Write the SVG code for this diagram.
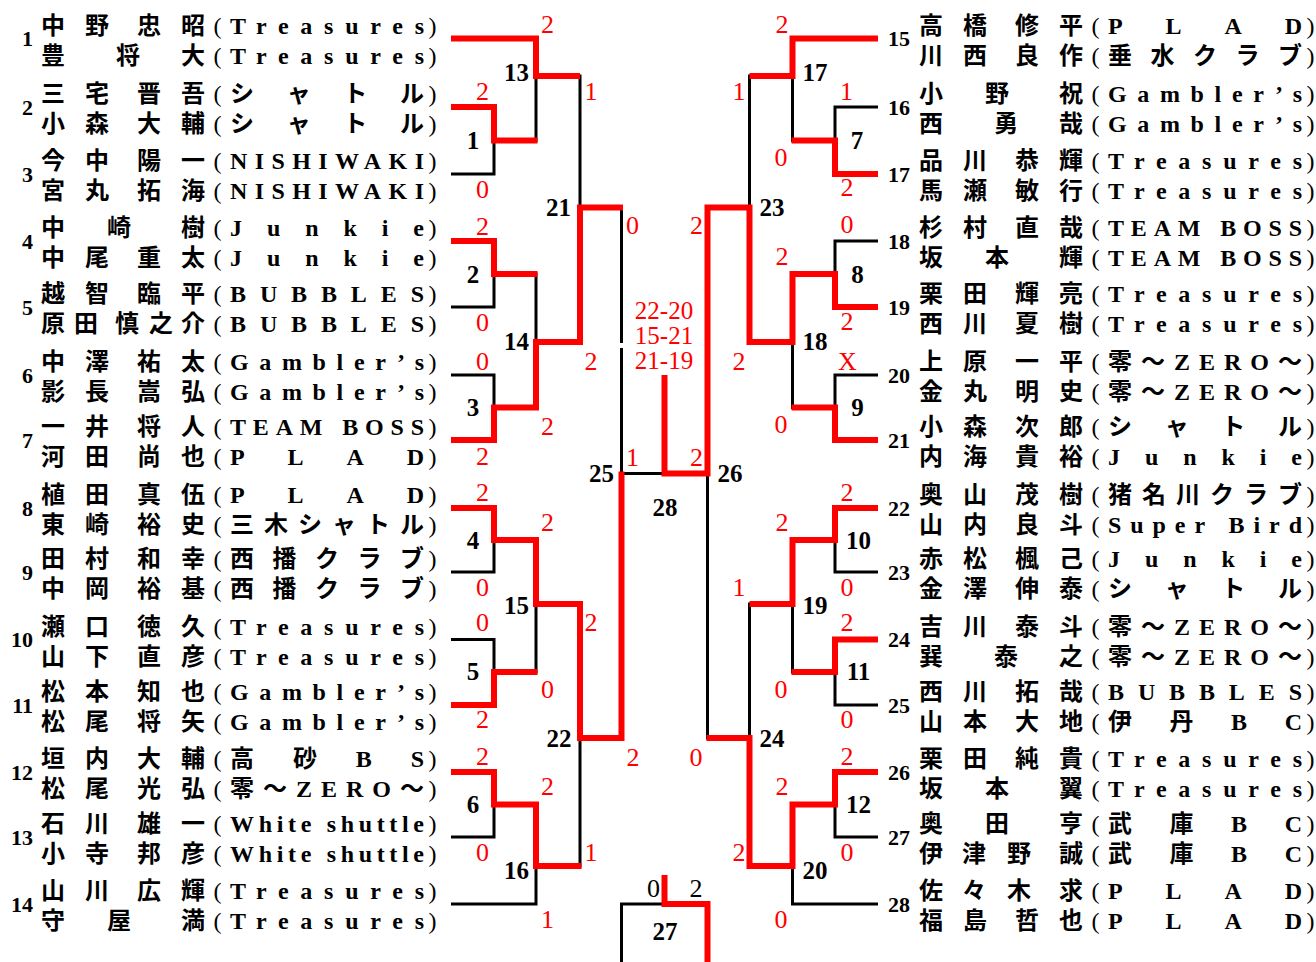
<svg xmlns="http://www.w3.org/2000/svg" width="1316" height="962" viewBox="0 0 1316 962">
<style>
.nm{font-family:"Liberation Serif","Noto Sans CJK JP",serif;font-size:24px;font-weight:700;fill:#000}
.pr{font-family:"Liberation Serif",serif;font-size:24px;text-anchor:middle;fill:#000}
.no{font-family:"Liberation Serif",serif;font-size:22px;font-weight:700;fill:#000}
.nl{text-anchor:end}
.mn{font-family:"Liberation Serif",serif;font-size:25px;font-weight:700;text-anchor:middle;fill:#000}
.sc{font-family:"Liberation Serif",serif;font-size:26px;text-anchor:middle;fill:#f00}
.bs{font-family:"Liberation Serif",serif;font-size:26px;text-anchor:middle;fill:#000}
.gs{font-family:"Liberation Serif",serif;font-size:25px;text-anchor:middle;fill:#f00}
.bk{fill:none;stroke:#000;stroke-width:3;stroke-linecap:square}
.rd{fill:none;stroke:#f00;stroke-width:6;stroke-linejoin:miter;stroke-linecap:butt}
</style>
<rect width="1316" height="962" fill="#fff"/>
<g id="connectors">
<path class="bk" d="M452.5 38.5H536M452.5 107H494M452.5 174H494M452.5 241H494M452.5 307H494M452.5 375H494M452.5 440H494M452.5 508H494M452.5 572H494M452.5 639.5H494M452.5 705H494M452.5 772H494M452.5 837H494M452.5 904H536
M494 107V174M494 241V307M494 375V440M494 508V572M494 639.5V705M494 772V837
M494 140.5H536M494 274H536M494 407.5H536M494 540H536M494 672H536M494 804.5H536
M536 38.5V140.5M536 274V407.5M536 540V672M536 804.5V904
M536 76H580M536 342H580M536 604H580M536 866H580
M580 76V342M580 604V866M580 207.5H621.5M580 738H621.5
M621.5 207.5V341.5M621.5 349.5V738M621.5 473.5H664.5
M621.5 904H664.5M621.5 904V962"/>
<path class="bk" d="M876.5 38.5H792.5M876.5 107H835M876.5 174H835M876.5 241H835M876.5 307H835M876.5 375H835M876.5 440H835M876.5 508H835M876.5 572H835M876.5 639.5H835M876.5 705H835M876.5 772H835M876.5 837H835M876.5 904H792.5
M835 107V174M835 241V307M835 375V440M835 508V572M835 639.5V705M835 772V837
M835 140.5H792.5M835 274H792.5M835 407.5H792.5M835 540H792.5M835 672H792.5M835 804.5H792.5
M792.5 38.5V140.5M792.5 274V407.5M792.5 540V672M792.5 804.5V904
M792.5 76H749.5M792.5 342H749.5M792.5 604H749.5M792.5 866H749.5
M749.5 76V342M749.5 604V866M749.5 207.5H707.5M749.5 738H707.5
M707.5 207.5V738M707.5 473.5H664.5"/>
<path class="rd" d="M451 38.5H536V76H580"/>
<path class="rd" d="M451 107H494V140.5H537.5"/>
<path class="rd" d="M451 241H494V274H537.5"/>
<path class="rd" d="M451 440H494V407.5H536V342H580V207.5H623"/>
<path class="rd" d="M451 508H494V540H536V604H580V738H621.5V471.5"/>
<path class="rd" d="M451 705H494V672H537.5"/>
<path class="rd" d="M451 772H494V804.5H536V866H581.5"/>
<path class="rd" d="M878 38.5H792.5V76H749.5"/>
<path class="rd" d="M878 174H835V140.5H791.5"/>
<path class="rd" d="M878 307H835V274H792.5V342H749.5V207.5H707.5V473.5H664.5V375"/>
<path class="rd" d="M878 440H835V407.5H791.5"/>
<path class="rd" d="M878 508H835V540H792.5V604H749.5"/>
<path class="rd" d="M878 639.5H835V672H791.5"/>
<path class="rd" d="M878 772H835V804.5H792.5V866H749.5V738H706.5"/>
<path class="rd" d="M664.5 875V904H707.5V962"/>
</g>
<g id="match-labels">
<text class="mn" x="473" y="149">1</text><text class="mn" x="473" y="282.5">2</text><text class="mn" x="473" y="416">3</text><text class="mn" x="473" y="548.5">4</text><text class="mn" x="473" y="680">5</text><text class="mn" x="473" y="813">6</text>
<text class="mn" x="516.5" y="80.5">13</text><text class="mn" x="516.5" y="349.5">14</text><text class="mn" x="516.5" y="613.5">15</text><text class="mn" x="516.5" y="879">16</text>
<text class="mn" x="558.5" y="216">21</text><text class="mn" x="559" y="747">22</text><text class="mn" x="601.5" y="481.5">25</text>
<text class="mn" x="857" y="149">7</text><text class="mn" x="857.5" y="282.5">8</text><text class="mn" x="857.5" y="416">9</text><text class="mn" x="858.5" y="548.5">10</text><text class="mn" x="858.5" y="680">11</text><text class="mn" x="858.5" y="813">12</text>
<text class="mn" x="815" y="80.5">17</text><text class="mn" x="815" y="350">18</text><text class="mn" x="815" y="613.5">19</text><text class="mn" x="815" y="879">20</text>
<text class="mn" x="772" y="216">23</text><text class="mn" x="772" y="747">24</text><text class="mn" x="730" y="481.5">26</text>
<text class="mn" x="665" y="515.5">28</text><text class="mn" x="665" y="940">27</text>
</g>
<g id="scores">
<text class="sc" x="547.5" y="33">2</text><text class="sc" x="591" y="100">1</text><text class="sc" x="482.5" y="100">2</text><text class="sc" x="482.5" y="198">0</text>
<text class="sc" x="632.5" y="234">0</text><text class="sc" x="482.5" y="235">2</text><text class="sc" x="482.5" y="331">0</text><text class="sc" x="482.5" y="370">0</text>
<text class="sc" x="591" y="370">2</text><text class="sc" x="547.5" y="435">2</text><text class="sc" x="482.5" y="465">2</text><text class="sc" x="632.5" y="466">1</text>
<text class="sc" x="482.5" y="501">2</text><text class="sc" x="547.5" y="531">2</text><text class="sc" x="482.5" y="596">0</text><text class="sc" x="482.5" y="631">0</text>
<text class="sc" x="591" y="631">2</text><text class="sc" x="547.5" y="698">0</text><text class="sc" x="482.5" y="728">2</text><text class="sc" x="482.5" y="765">2</text>
<text class="sc" x="633" y="766">2</text><text class="sc" x="547.5" y="795">2</text><text class="sc" x="482.5" y="861">0</text><text class="sc" x="591" y="861">1</text>
<text class="sc" x="547.5" y="928">1</text>
<text class="sc" x="782" y="33">2</text><text class="sc" x="739" y="100">1</text><text class="sc" x="846.5" y="100">1</text><text class="sc" x="781" y="166">0</text>
<text class="sc" x="847" y="196">2</text><text class="sc" x="696.5" y="234">2</text><text class="sc" x="847" y="233">0</text><text class="sc" x="782" y="265">2</text>
<text class="sc" x="847" y="330">2</text><text class="sc" x="739" y="370">2</text><text class="sc" x="847.5" y="370">X</text><text class="sc" x="781" y="433">0</text>
<text class="sc" x="696.5" y="466">2</text><text class="sc" x="847" y="501">2</text><text class="sc" x="782" y="531">2</text><text class="sc" x="739" y="596">1</text>
<text class="sc" x="847" y="596">0</text><text class="sc" x="847" y="631">2</text><text class="sc" x="781" y="698">0</text><text class="sc" x="847" y="728">0</text>
<text class="sc" x="696" y="766">0</text><text class="sc" x="847" y="765">2</text><text class="sc" x="782" y="795">2</text><text class="sc" x="739" y="861">2</text>
<text class="sc" x="847" y="861">0</text><text class="sc" x="781" y="928">0</text>
<text class="gs" x="664" y="318.5">22-20</text><text class="gs" x="664" y="343.5">15-21</text><text class="gs" x="664" y="368.5">21-19</text>
<text class="bs" x="653.5" y="897">0</text><text class="bs" x="696" y="897">2</text>
</g>
<g id="entry-1"><text class="no nl" x="33" y="46">1</text>
<text class="nm" x="41 85 137 181" y="33.5">中野忠昭</text><text class="pr" x="217.5" y="33.5">(</text><text class="pr" x="432.5" y="33.5">)</text><text class="nm" x="230" y="33.5" textLength="194" lengthAdjust="spacing">Treasures</text>
<text class="nm" x="41 116 181" y="63.5">豊将大</text><text class="pr" x="217.5" y="63.5">(</text><text class="pr" x="432.5" y="63.5">)</text><text class="nm" x="230" y="63.5" textLength="194" lengthAdjust="spacing">Treasures</text></g>
<g id="entry-2"><text class="no nl" x="33" y="114.5">2</text>
<text class="nm" x="41 85 137 181" y="102">三宅晋吾</text><text class="pr" x="217.5" y="102">(</text><text class="pr" x="432.5" y="102">)</text><text class="nm" x="230" y="102" textLength="194" lengthAdjust="spacing">シャトル</text>
<text class="nm" x="41 85 137 181" y="132">小森大輔</text><text class="pr" x="217.5" y="132">(</text><text class="pr" x="432.5" y="132">)</text><text class="nm" x="230" y="132" textLength="194" lengthAdjust="spacing">シャトル</text></g>
<g id="entry-3"><text class="no nl" x="33" y="181.5">3</text>
<text class="nm" x="41 85 137 181" y="169">今中陽一</text><text class="pr" x="217.5" y="169">(</text><text class="pr" x="432.5" y="169">)</text><text class="nm" x="230" y="169" textLength="194" lengthAdjust="spacing">NISHIWAKI</text>
<text class="nm" x="41 85 137 181" y="199">宮丸拓海</text><text class="pr" x="217.5" y="199">(</text><text class="pr" x="432.5" y="199">)</text><text class="nm" x="230" y="199" textLength="194" lengthAdjust="spacing">NISHIWAKI</text></g>
<g id="entry-4"><text class="no nl" x="33" y="248.5">4</text>
<text class="nm" x="41 107 181" y="236">中崎樹</text><text class="pr" x="217.5" y="236">(</text><text class="pr" x="432.5" y="236">)</text><text class="nm" x="230" y="236" textLength="194" lengthAdjust="spacing">Junkie</text>
<text class="nm" x="41 85 137 181" y="266">中尾重太</text><text class="pr" x="217.5" y="266">(</text><text class="pr" x="432.5" y="266">)</text><text class="nm" x="230" y="266" textLength="194" lengthAdjust="spacing">Junkie</text></g>
<g id="entry-5"><text class="no nl" x="33" y="314.5">5</text>
<text class="nm" x="41 85 137 181" y="302">越智臨平</text><text class="pr" x="217.5" y="302">(</text><text class="pr" x="432.5" y="302">)</text><text class="nm" x="230" y="302" textLength="194" lengthAdjust="spacing">BUBBLES</text>
<text class="nm" x="41 74 115 149 181" y="332">原田慎之介</text><text class="pr" x="217.5" y="332">(</text><text class="pr" x="432.5" y="332">)</text><text class="nm" x="230" y="332" textLength="194" lengthAdjust="spacing">BUBBLES</text></g>
<g id="entry-6"><text class="no nl" x="33" y="382.5">6</text>
<text class="nm" x="41 85 137 181" y="370">中澤祐太</text><text class="pr" x="217.5" y="370">(</text><text class="pr" x="432.5" y="370">)</text><text class="nm" x="230" y="370" textLength="194" lengthAdjust="spacing">Gambler’s</text>
<text class="nm" x="41 85 137 181" y="400">影長嵩弘</text><text class="pr" x="217.5" y="400">(</text><text class="pr" x="432.5" y="400">)</text><text class="nm" x="230" y="400" textLength="194" lengthAdjust="spacing">Gambler’s</text></g>
<g id="entry-7"><text class="no nl" x="33" y="447.5">7</text>
<text class="nm" x="41 85 137 181" y="435">一井将人</text><text class="pr" x="217.5" y="435">(</text><text class="pr" x="432.5" y="435">)</text><text class="nm" x="230" y="435" textLength="194" lengthAdjust="spacing">TEAM BOSS</text>
<text class="nm" x="41 85 137 181" y="465">河田尚也</text><text class="pr" x="217.5" y="465">(</text><text class="pr" x="432.5" y="465">)</text><text class="nm" x="230" y="465" textLength="194" lengthAdjust="spacing">PLAD</text></g>
<g id="entry-8"><text class="no nl" x="33" y="515.5">8</text>
<text class="nm" x="41 85 137 181" y="503">植田真伍</text><text class="pr" x="217.5" y="503">(</text><text class="pr" x="432.5" y="503">)</text><text class="nm" x="230" y="503" textLength="194" lengthAdjust="spacing">PLAD</text>
<text class="nm" x="41 85 137 181" y="533">東崎裕史</text><text class="pr" x="217.5" y="533">(</text><text class="pr" x="432.5" y="533">)</text><text class="nm" x="230" y="533" textLength="194" lengthAdjust="spacing">三木シャトル</text></g>
<g id="entry-9"><text class="no nl" x="33" y="579.5">9</text>
<text class="nm" x="41 85 137 181" y="567">田村和幸</text><text class="pr" x="217.5" y="567">(</text><text class="pr" x="432.5" y="567">)</text><text class="nm" x="230" y="567" textLength="194" lengthAdjust="spacing">西播クラブ</text>
<text class="nm" x="41 85 137 181" y="597">中岡裕基</text><text class="pr" x="217.5" y="597">(</text><text class="pr" x="432.5" y="597">)</text><text class="nm" x="230" y="597" textLength="194" lengthAdjust="spacing">西播クラブ</text></g>
<g id="entry-10"><text class="no nl" x="33" y="647">10</text>
<text class="nm" x="41 85 137 181" y="634.5">瀬口徳久</text><text class="pr" x="217.5" y="634.5">(</text><text class="pr" x="432.5" y="634.5">)</text><text class="nm" x="230" y="634.5" textLength="194" lengthAdjust="spacing">Treasures</text>
<text class="nm" x="41 85 137 181" y="664.5">山下直彦</text><text class="pr" x="217.5" y="664.5">(</text><text class="pr" x="432.5" y="664.5">)</text><text class="nm" x="230" y="664.5" textLength="194" lengthAdjust="spacing">Treasures</text></g>
<g id="entry-11"><text class="no nl" x="33" y="712.5">11</text>
<text class="nm" x="41 85 137 181" y="700">松本知也</text><text class="pr" x="217.5" y="700">(</text><text class="pr" x="432.5" y="700">)</text><text class="nm" x="230" y="700" textLength="194" lengthAdjust="spacing">Gambler’s</text>
<text class="nm" x="41 85 137 181" y="730">松尾将矢</text><text class="pr" x="217.5" y="730">(</text><text class="pr" x="432.5" y="730">)</text><text class="nm" x="230" y="730" textLength="194" lengthAdjust="spacing">Gambler’s</text></g>
<g id="entry-12"><text class="no nl" x="33" y="779.5">12</text>
<text class="nm" x="41 85 137 181" y="767">垣内大輔</text><text class="pr" x="217.5" y="767">(</text><text class="pr" x="432.5" y="767">)</text><text class="nm" x="230" y="767" textLength="194" lengthAdjust="spacing">高砂BS</text>
<text class="nm" x="41 85 137 181" y="797">松尾光弘</text><text class="pr" x="217.5" y="797">(</text><text class="pr" x="432.5" y="797">)</text><text class="nm" x="230" y="797" textLength="194" lengthAdjust="spacing">零～ZERO～</text></g>
<g id="entry-13"><text class="no nl" x="33" y="844.5">13</text>
<text class="nm" x="41 85 137 181" y="832">石川雄一</text><text class="pr" x="217.5" y="832">(</text><text class="pr" x="432.5" y="832">)</text><text class="nm" x="230" y="832" textLength="194" lengthAdjust="spacing">White shuttle</text>
<text class="nm" x="41 85 137 181" y="862">小寺邦彦</text><text class="pr" x="217.5" y="862">(</text><text class="pr" x="432.5" y="862">)</text><text class="nm" x="230" y="862" textLength="194" lengthAdjust="spacing">White shuttle</text></g>
<g id="entry-14"><text class="no nl" x="33" y="911.5">14</text>
<text class="nm" x="41 85 137 181" y="899">山川広輝</text><text class="pr" x="217.5" y="899">(</text><text class="pr" x="432.5" y="899">)</text><text class="nm" x="230" y="899" textLength="194" lengthAdjust="spacing">Treasures</text>
<text class="nm" x="41 107 181" y="929">守屋満</text><text class="pr" x="217.5" y="929">(</text><text class="pr" x="432.5" y="929">)</text><text class="nm" x="230" y="929" textLength="194" lengthAdjust="spacing">Treasures</text></g>
<g id="entry-15"><text class="no" x="888" y="46">15</text>
<text class="nm" x="919 963 1015 1059" y="33.5">高橋修平</text><text class="pr" x="1095.5" y="33.5">(</text><text class="pr" x="1310.5" y="33.5">)</text><text class="nm" x="1108" y="33.5" textLength="194" lengthAdjust="spacing">PLAD</text>
<text class="nm" x="919 963 1015 1059" y="63.5">川西良作</text><text class="pr" x="1095.5" y="63.5">(</text><text class="pr" x="1310.5" y="63.5">)</text><text class="nm" x="1108" y="63.5" textLength="194" lengthAdjust="spacing">垂水クラブ</text></g>
<g id="entry-16"><text class="no" x="888" y="114.5">16</text>
<text class="nm" x="919 985 1059" y="102">小野祝</text><text class="pr" x="1095.5" y="102">(</text><text class="pr" x="1310.5" y="102">)</text><text class="nm" x="1108" y="102" textLength="194" lengthAdjust="spacing">Gambler’s</text>
<text class="nm" x="919 994 1059" y="132">西勇哉</text><text class="pr" x="1095.5" y="132">(</text><text class="pr" x="1310.5" y="132">)</text><text class="nm" x="1108" y="132" textLength="194" lengthAdjust="spacing">Gambler’s</text></g>
<g id="entry-17"><text class="no" x="888" y="181.5">17</text>
<text class="nm" x="919 963 1015 1059" y="169">品川恭輝</text><text class="pr" x="1095.5" y="169">(</text><text class="pr" x="1310.5" y="169">)</text><text class="nm" x="1108" y="169" textLength="194" lengthAdjust="spacing">Treasures</text>
<text class="nm" x="919 963 1015 1059" y="199">馬瀬敏行</text><text class="pr" x="1095.5" y="199">(</text><text class="pr" x="1310.5" y="199">)</text><text class="nm" x="1108" y="199" textLength="194" lengthAdjust="spacing">Treasures</text></g>
<g id="entry-18"><text class="no" x="888" y="248.5">18</text>
<text class="nm" x="919 963 1015 1059" y="236">杉村直哉</text><text class="pr" x="1095.5" y="236">(</text><text class="pr" x="1310.5" y="236">)</text><text class="nm" x="1108" y="236" textLength="194" lengthAdjust="spacing">TEAM BOSS</text>
<text class="nm" x="919 985 1059" y="266">坂本輝</text><text class="pr" x="1095.5" y="266">(</text><text class="pr" x="1310.5" y="266">)</text><text class="nm" x="1108" y="266" textLength="194" lengthAdjust="spacing">TEAM BOSS</text></g>
<g id="entry-19"><text class="no" x="888" y="314.5">19</text>
<text class="nm" x="919 963 1015 1059" y="302">栗田輝亮</text><text class="pr" x="1095.5" y="302">(</text><text class="pr" x="1310.5" y="302">)</text><text class="nm" x="1108" y="302" textLength="194" lengthAdjust="spacing">Treasures</text>
<text class="nm" x="919 963 1015 1059" y="332">西川夏樹</text><text class="pr" x="1095.5" y="332">(</text><text class="pr" x="1310.5" y="332">)</text><text class="nm" x="1108" y="332" textLength="194" lengthAdjust="spacing">Treasures</text></g>
<g id="entry-20"><text class="no" x="888" y="382.5">20</text>
<text class="nm" x="919 963 1015 1059" y="370">上原一平</text><text class="pr" x="1095.5" y="370">(</text><text class="pr" x="1310.5" y="370">)</text><text class="nm" x="1108" y="370" textLength="194" lengthAdjust="spacing">零～ZERO～</text>
<text class="nm" x="919 963 1015 1059" y="400">金丸明史</text><text class="pr" x="1095.5" y="400">(</text><text class="pr" x="1310.5" y="400">)</text><text class="nm" x="1108" y="400" textLength="194" lengthAdjust="spacing">零～ZERO～</text></g>
<g id="entry-21"><text class="no" x="888" y="447.5">21</text>
<text class="nm" x="919 963 1015 1059" y="435">小森次郎</text><text class="pr" x="1095.5" y="435">(</text><text class="pr" x="1310.5" y="435">)</text><text class="nm" x="1108" y="435" textLength="194" lengthAdjust="spacing">シャトル</text>
<text class="nm" x="919 963 1015 1059" y="465">内海貴裕</text><text class="pr" x="1095.5" y="465">(</text><text class="pr" x="1310.5" y="465">)</text><text class="nm" x="1108" y="465" textLength="194" lengthAdjust="spacing">Junkie</text></g>
<g id="entry-22"><text class="no" x="888" y="515.5">22</text>
<text class="nm" x="919 963 1015 1059" y="503">奥山茂樹</text><text class="pr" x="1095.5" y="503">(</text><text class="pr" x="1310.5" y="503">)</text><text class="nm" x="1108" y="503" textLength="194" lengthAdjust="spacing">猪名川クラブ</text>
<text class="nm" x="919 963 1015 1059" y="533">山内良斗</text><text class="pr" x="1095.5" y="533">(</text><text class="pr" x="1310.5" y="533">)</text><text class="nm" x="1108" y="533" textLength="194" lengthAdjust="spacing">Super Bird</text></g>
<g id="entry-23"><text class="no" x="888" y="579.5">23</text>
<text class="nm" x="919 963 1015 1059" y="567">赤松楓己</text><text class="pr" x="1095.5" y="567">(</text><text class="pr" x="1310.5" y="567">)</text><text class="nm" x="1108" y="567" textLength="194" lengthAdjust="spacing">Junkie</text>
<text class="nm" x="919 963 1015 1059" y="597">金澤伸泰</text><text class="pr" x="1095.5" y="597">(</text><text class="pr" x="1310.5" y="597">)</text><text class="nm" x="1108" y="597" textLength="194" lengthAdjust="spacing">シャトル</text></g>
<g id="entry-24"><text class="no" x="888" y="647">24</text>
<text class="nm" x="919 963 1015 1059" y="634.5">吉川泰斗</text><text class="pr" x="1095.5" y="634.5">(</text><text class="pr" x="1310.5" y="634.5">)</text><text class="nm" x="1108" y="634.5" textLength="194" lengthAdjust="spacing">零～ZERO～</text>
<text class="nm" x="919 994 1059" y="664.5">巽泰之</text><text class="pr" x="1095.5" y="664.5">(</text><text class="pr" x="1310.5" y="664.5">)</text><text class="nm" x="1108" y="664.5" textLength="194" lengthAdjust="spacing">零～ZERO～</text></g>
<g id="entry-25"><text class="no" x="888" y="712.5">25</text>
<text class="nm" x="919 963 1015 1059" y="700">西川拓哉</text><text class="pr" x="1095.5" y="700">(</text><text class="pr" x="1310.5" y="700">)</text><text class="nm" x="1108" y="700" textLength="194" lengthAdjust="spacing">BUBBLES</text>
<text class="nm" x="919 963 1015 1059" y="730">山本大地</text><text class="pr" x="1095.5" y="730">(</text><text class="pr" x="1310.5" y="730">)</text><text class="nm" x="1108" y="730" textLength="194" lengthAdjust="spacing">伊丹BC</text></g>
<g id="entry-26"><text class="no" x="888" y="779.5">26</text>
<text class="nm" x="919 963 1015 1059" y="767">栗田純貴</text><text class="pr" x="1095.5" y="767">(</text><text class="pr" x="1310.5" y="767">)</text><text class="nm" x="1108" y="767" textLength="194" lengthAdjust="spacing">Treasures</text>
<text class="nm" x="919 985 1059" y="797">坂本翼</text><text class="pr" x="1095.5" y="797">(</text><text class="pr" x="1310.5" y="797">)</text><text class="nm" x="1108" y="797" textLength="194" lengthAdjust="spacing">Treasures</text></g>
<g id="entry-27"><text class="no" x="888" y="844.5">27</text>
<text class="nm" x="919 985 1059" y="832">奥田亨</text><text class="pr" x="1095.5" y="832">(</text><text class="pr" x="1310.5" y="832">)</text><text class="nm" x="1108" y="832" textLength="194" lengthAdjust="spacing">武庫BC</text>
<text class="nm" x="919 962 1007 1059" y="862">伊津野誠</text><text class="pr" x="1095.5" y="862">(</text><text class="pr" x="1310.5" y="862">)</text><text class="nm" x="1108" y="862" textLength="194" lengthAdjust="spacing">武庫BC</text></g>
<g id="entry-28"><text class="no" x="888" y="911.5">28</text>
<text class="nm" x="919 962 1007 1059" y="899">佐々木求</text><text class="pr" x="1095.5" y="899">(</text><text class="pr" x="1310.5" y="899">)</text><text class="nm" x="1108" y="899" textLength="194" lengthAdjust="spacing">PLAD</text>
<text class="nm" x="919 963 1015 1059" y="929">福島哲也</text><text class="pr" x="1095.5" y="929">(</text><text class="pr" x="1310.5" y="929">)</text><text class="nm" x="1108" y="929" textLength="194" lengthAdjust="spacing">PLAD</text></g>
</svg>
